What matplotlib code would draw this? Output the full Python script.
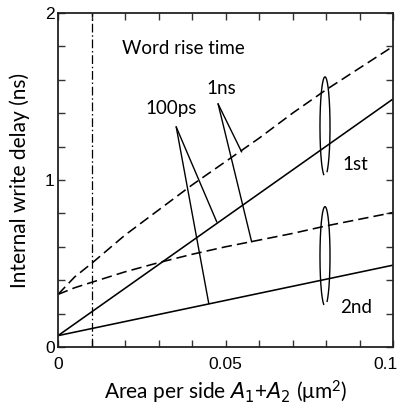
import matplotlib
matplotlib.use("Agg")
import numpy as np
import matplotlib.pyplot as plt
import matplotlib.transforms as mtransforms
from matplotlib.ticker import MultipleLocator, FixedLocator

# Area per side A1+A2 (um^2)
area = [0, 0.005, 0.01, 0.02, 0.03, 0.04, 0.05, 0.06, 0.07, 0.08, 0.09, 0.1]

# Word rise time 1 ns (dashed)
delay_1st_1ns = [0.315, 0.42, 0.50, 0.67, 0.82, 0.97, 1.11, 1.25, 1.40, 1.54, 1.67, 1.80]
delay_2nd_1ns = [0.315, 0.355, 0.387, 0.45, 0.505, 0.555, 0.60, 0.64, 0.68, 0.725, 0.765, 0.805]

# Word rise time 100 ps (solid)
area_lin = [0, 0.1]
delay_1st_100ps = [0.068, 1.485]
delay_2nd_100ps = [0.068, 0.49]

# Reference area marker
area_marker = 0.01

x_ticks = [0, 0.05, 0.1]
x_ticklabels = ["0", "0.05", "0.1"]
y_ticks = [0, 1, 2]
y_ticklabels = ["0", "1", "2"]

text_font = "Lato"
tick_font = "Liberation Sans"

fig = plt.figure(figsize=(4.01, 4.05), dpi=100)
ax = fig.add_axes([58 / 401, 58 / 405, 335 / 401, 334 / 405])

lw = 1.15
ax.plot(area_lin, delay_1st_100ps, color="black", lw=lw, solid_capstyle="butt")
ax.plot(area_lin, delay_2nd_100ps, color="black", lw=lw, solid_capstyle="butt")
l1, = ax.plot(area, delay_1st_1ns, color="black", lw=lw)
l2, = ax.plot(area, delay_2nd_1ns, color="black", lw=lw)
for ln in (l1, l2):
    ln.set_dashes([6.5, 3.2])
vl = ax.axvline(area_marker, color="black", lw=0.9)
vl.set_dashes([7, 2.2, 1.2, 2.2])

# leader lines from the labels to the curves
def leader(apex, ends):
    for e in ends:
        ax.plot([apex[0], e[0]], [apex[1], e[1]], color="black", lw=1.0)

leader((0.0353, 1.317), [(0.04737, 0.750), (0.0450, 0.261)])
leader((0.0478, 1.455), [(0.0548, 1.169), (0.0578, 0.630)])

# open loops grouping each pair of curves
t = np.radians(np.linspace(-65, 255, 200))
for cy in (1.32, 0.543):
    ax.plot(0.0797 + 0.0015 * np.cos(t), cy + 0.2975 * np.sin(t),
            color="black", lw=1.0)

fs = 13.5
ax.text(0.0191, 1.79, "Word rise time", fontsize=fs, family=text_font, va="center", ha="left")
ax.text(0.026, 1.43, "100ps", fontsize=fs, family=text_font, va="center", ha="left")
ax.text(0.0444, 1.55, "1ns", fontsize=fs, family=text_font, va="center", ha="left")
ax.text(0.0848, 1.09, "1st", fontsize=fs, family=text_font, va="center", ha="left")
ax.text(0.0842, 0.234, "2nd", fontsize=fs, family=text_font, va="center", ha="left")

ax.set_xlim(0, 0.1)
ax.set_ylim(0, 2)
ax.xaxis.set_major_locator(FixedLocator(x_ticks))
ax.xaxis.set_minor_locator(MultipleLocator(0.01))
ax.yaxis.set_major_locator(FixedLocator(y_ticks))
ax.yaxis.set_minor_locator(MultipleLocator(0.2))
ax.set_xticklabels(x_ticklabels, family=tick_font, fontsize=12.5)
ax.set_yticklabels(y_ticklabels, family=tick_font, fontsize=12.5)
ax.tick_params(which="both", direction="in", length=5, width=1.0,
               top=True, right=True, color="#333333")
ax.tick_params(axis="x", which="major", pad=7)
ax.tick_params(axis="y", which="major", pad=2.5)
for s in ax.spines.values():
    s.set_linewidth(1.3)
    s.set_color("#222222")

# keep the last x tick label inside the figure
last = ax.get_xticklabels()[-1]
last.set_horizontalalignment("right")
last.set_transform(last.get_transform() +
                   mtransforms.ScaledTranslation(5 / 100, 0, fig.dpi_scale_trans))

ax.set_xlabel(r"Area per side $\mathit{A}_1$+$\mathit{A}_2$ ($\mathregular{\mu m^2}$)",
              family=text_font, fontsize=15, labelpad=5)
ax.set_ylabel("Internal write delay (ns)", family=text_font, fontsize=15, labelpad=11)

fig.savefig("out.png", dpi=100)
